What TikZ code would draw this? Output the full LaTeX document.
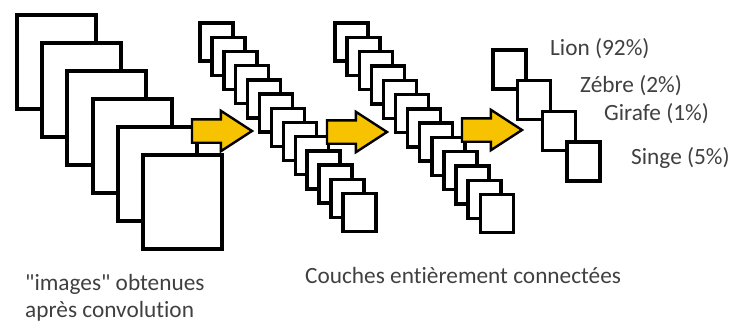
\documentclass[tikz,border=0pt]{standalone}
\usepackage{fontspec}
\setmainfont[Ligatures={TeXOff,NoCommon}]{Carlito}
\usetikzlibrary{shapes.arrows}
\definecolor{flecheyellow}{RGB}{247,194,0}

\begin{document}
\begin{tikzpicture}[x=1pt,y=-1pt,
		map/.style={rectangle, draw=black, fill=white, line width=4pt, inner sep=0pt, outer sep=0pt, anchor=north west},
		bigmap/.style={map, minimum width=79pt, minimum height=94pt},
		smallmap/.style={map, line width=3.4pt, minimum width=33pt, minimum height=38pt},
		fleche/.style={single arrow, draw=black, line width=2.4pt, fill=flecheyellow, inner xsep=0pt, inner ysep=10.5pt, outer sep=0pt, minimum height=60pt, single arrow head extend=8.5pt, single arrow tip angle=66, anchor=tail},
		lab/.style={text=black!75, inner sep=0pt, anchor=base west, font=\fontsize{23.3}{27}\selectfont}]
		\useasboundingbox (0,0) rectangle (737,325);
		\foreach \i in {0,...,5}
			\node[bigmap] (img\i) at ({17+25.2*\i},{15+28*\i}) {};
		\foreach \i in {0,...,12}{
			\node[smallmap] (fca\i) at ({200+11.9*\i},{23+14.2*\i}) {};
			\node[smallmap] (fcb\i) at ({335+12.1*\i},{23+14.3*\i}) {};
		}
		\foreach \i in {0,...,3}
			\node[smallmap, minimum height=39pt] (out\i) at ({493+24.7*\i},{50+30.7*\i}) {};
		\node[fleche] (f1) at (192,131) {};
		\node[fleche] (f2) at (327,132) {};
		\node[fleche] (f3) at (462,130) {};
		\node[lab] (lion) at (550,55) {Lion (92\%)};
		\node[lab] (zebre) at (580,92) {Zébre (2\%)};
		\node[lab] (girafe) at (604,120) {Girafe (1\%)};
		\node[lab] (singe) at (631,164) {Singe (5\%)};
		\node[lab, align=left] (conv) at (25,317) {"images" obtenues\\après convolution};
		\node[lab] (couches) at (305,283) {Couches entièrement connectées};
\end{tikzpicture}
\end{document}
